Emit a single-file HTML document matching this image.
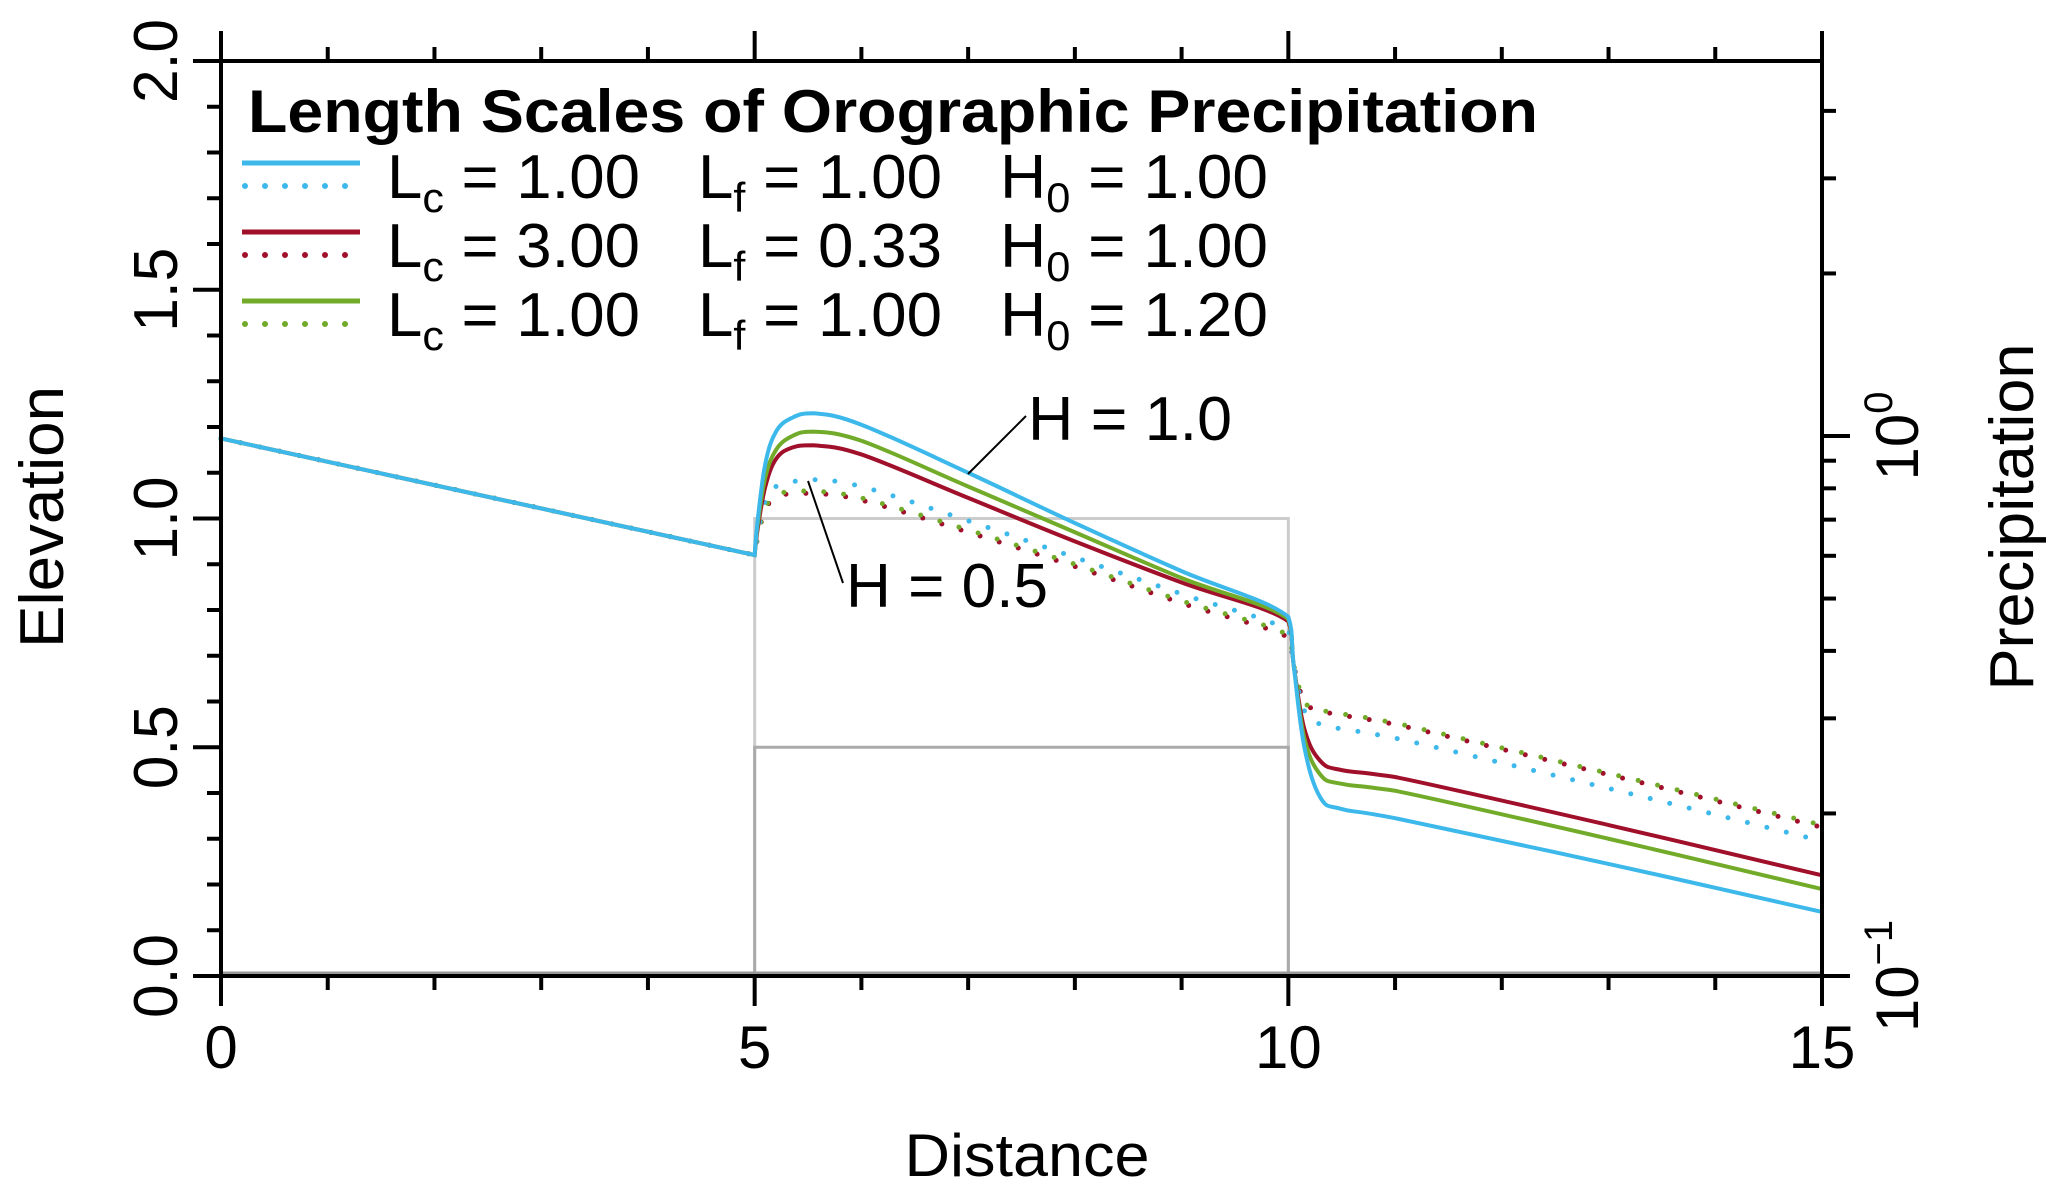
<!DOCTYPE html>
<html><head><meta charset="utf-8"><style>
html,body{margin:0;padding:0;background:#fff;}
svg{display:block;font-family:"Liberation Sans",sans-serif;}
</style></head><body>
<svg id="chart" width="2067" height="1199" viewBox="0 0 2067 1199" xmlns="http://www.w3.org/2000/svg">
<g id="terrain"></g>
<g id="series"></g>
<g id="axes"></g>
<g id="legend">
  <text x="248" y="132" font-size="60" font-weight="bold" textLength="1290" lengthAdjust="spacingAndGlyphs">Length Scales of Orographic Precipitation</text>
</g>
<g>
  <line x1="1026" y1="416" x2="968" y2="474" stroke="#000" stroke-width="2"/>
  <text x="1028" y="440" font-size="62" textLength="204" lengthAdjust="spacingAndGlyphs">H = 1.0</text>
  <line x1="843" y1="583" x2="808" y2="481" stroke="#000" stroke-width="2"/>
  <text x="846" y="607" font-size="62" textLength="202" lengthAdjust="spacingAndGlyphs">H = 0.5</text>
</g>
</svg>
<script>
const xVals=[0,5,5.03,5.1,5.2,5.35,5.55,6,7,8,9,10,10.05,10.15,10.3,10.5,11,13,15];
const blueSolid=[1.175,0.92,1.0,1.12,1.19,1.22,1.23,1.205,1.10,0.99,0.885,0.785,0.68,0.5,0.39,0.365,0.345,0.245,0.14];
const greenSolid=[1.175,0.92,0.99,1.09,1.15,1.18,1.19,1.17,1.07,0.97,0.87,0.78,0.68,0.52,0.44,0.42,0.405,0.30,0.19];
const redSolid=[1.175,0.92,0.98,1.07,1.13,1.155,1.16,1.14,1.045,0.95,0.86,0.775,0.68,0.54,0.47,0.45,0.435,0.33,0.22];
const blueDot=[1.175,0.92,0.97,1.04,1.07,1.08,1.085,1.07,0.995,0.915,0.835,0.755,0.68,0.58,0.55,0.54,0.52,0.41,0.295];
const redDot=[1.175,0.92,0.96,1.02,1.045,1.055,1.055,1.04,0.97,0.895,0.815,0.74,0.68,0.6,0.58,0.57,0.55,0.44,0.325];
const greenDot=[1.175,0.92,0.962,1.024,1.05,1.06,1.06,1.045,0.975,0.9,0.82,0.745,0.68,0.6,0.582,0.573,0.553,0.443,0.33];
const xTicks=[0,5,10,15];
const xTickLabels=["0","5","10","15"];
const yTicks=[0,0.5,1.0,1.5,2.0];
const yTickLabels=["0.0","0.5","1.0","1.5","2.0"];
const terrainX=[5,10];
const terrainH=[1.0,0.5];

const NS="http://www.w3.org/2000/svg";
const L=221,R=1822,T=61,B=976;
const sx=v=>L+(v-0)/(15-0)*(R-L);
const sy=v=>B-(v-0)/(2-0)*(B-T);
const decade=540, y10_0=436;
const syLog=p=>y10_0-Math.log10(p)*decade;
function mk(tag,attrs,parent){const e=document.createElementNS(NS,tag);for(const k in attrs)e.setAttribute(k,attrs[k]);parent.appendChild(e);return e;}
const axes=document.getElementById('axes'),series=document.getElementById('series'),terrain=document.getElementById('terrain');

const c1=terrainH.map((h,i)=>i===0?'#cccccc':'#aaaaaa');
terrainH.forEach((h,i)=>{
  const r=mk('path',{d:`M${sx(terrainX[0])},${sy(0)}V${sy(h)}H${sx(terrainX[1])}V${sy(0)}`,fill:'none',stroke:c1[i],'stroke-width':3},terrain);
  
  
});
const base=mk('line',{x1:L,y1:sy(0)-3,x2:R,y2:sy(0)-3,stroke:'#999','stroke-width':3},terrain);



function clamp(v,a,b){const lo=Math.min(a,b),hi=Math.max(a,b);return Math.max(lo,Math.min(hi,v));}
function pathD(xs,ys){
  const p=xs.map((x,i)=>[sx(x),sy(ys[i])]);
  let d=`M${p[0][0]},${p[0][1]}`;
  for(let i=0;i<p.length-1;i++){
    const p0=p[Math.max(0,i-1)],p1=p[i],p2=p[i+1],p3=p[Math.min(p.length-1,i+2)];
    const t=0.18;
    let c1x=p1[0]+(p2[0]-p0[0])*t,c1y=p1[1]+(p2[1]-p0[1])*t;
    let c2x=p2[0]-(p3[0]-p1[0])*t,c2y=p2[1]-(p3[1]-p1[1])*t;
    if(i<=1){c1x=p1[0];c1y=p1[1];}
    if(i===0){c2x=p2[0];c2y=p2[1];}
    c1y=clamp(c1y,p1[1],p2[1]);c2y=clamp(c2y,p1[1],p2[1]);
    c1x=clamp(c1x,p1[0],p2[0]);c2x=clamp(c2x,p1[0],p2[0]);
    d+=`C${c1x},${c1y} ${c2x},${c2y} ${p2[0]},${p2[1]}`;
  }
  return d;
}
const defs=[
 [redDot,'#a0102a',true,'red-dotted-h05'],
 [greenDot,'#72ab2a',true,'green-dotted-h05'],
 [blueDot,'#3db8ea',true,'blue-dotted-h05'],
 [redSolid,'#a0102a',false,'red-solid-h1'],
 [greenSolid,'#72ab2a',false,'green-solid-h1'],
 [blueSolid,'#3db8ea',false,'blue-solid-h1']];
defs.forEach(([ys,col,dot,name])=>{
  const a={d:pathD(xVals,ys),fill:'none',stroke:col,'stroke-width':dot?5:4,'stroke-linecap':'round'};
  if(dot)a['stroke-dasharray']='0 20';
  const e=mk('path',a,series);
  
  
});

const frame=mk('rect',{x:L,y:T,width:R-L,height:B-T,fill:'none',stroke:'#000','stroke-width':4},axes);


for(let v=0;v<=15;v++){
  const maj=v%5===0,len=maj?30:14;
  const b=mk('line',{x1:sx(v),y1:B,x2:sx(v),y2:B+len,stroke:'#000','stroke-width':4},axes);
  
  
  const t=mk('line',{x1:sx(v),y1:T,x2:sx(v),y2:T-len,stroke:'#000','stroke-width':4},axes);
  
  
}
xTicks.forEach((v,i)=>{
  const t=mk('text',{x:sx(v),y:1068,'font-size':60,'text-anchor':'middle'},axes);
  t.textContent=xTickLabels[i];
  
  
});
for(let k=0;k<=20;k++){
  const v=k/10,maj=k%5===0,len=maj?28:14;
  const e=mk('line',{x1:L,y1:sy(v),x2:L-len,y2:sy(v),stroke:'#000','stroke-width':4},axes);
  
  
}
yTicks.forEach((v,i)=>{
  const t=mk('text',{x:0,y:0,'font-size':62,'text-anchor':'middle',transform:`translate(177,${sy(v)}) rotate(-90)`,textLength:84,lengthAdjust:'spacingAndGlyphs'},axes);
  t.textContent=yTickLabels[i];
  
  
});
const logTicks=[0.1,0.2,0.3,0.4,0.5,0.6,0.7,0.8,0.9,1,2,3,4];
logTicks.forEach(p=>{
  const maj=(p===0.1||p===1),len=maj?28:14;
  const e=mk('line',{x1:R,y1:syLog(p),x2:R+len,y2:syLog(p),stroke:'#000','stroke-width':4},axes);
  
  
});
[[1,'0'],[0.1,'−1']].forEach(([p,ex])=>{
  const t=mk('text',{x:0,y:0,'font-size':60,'text-anchor':'middle',transform:`translate(1918,${syLog(p)}) rotate(-90)`},axes);
  
  
  t.textContent='10';
  const s=mk('tspan',{'font-size':40,dy:-26},t);
  s.textContent=ex;
});
const xt=mk('text',{x:1027,y:1176,'font-size':60,'text-anchor':'middle',textLength:245,lengthAdjust:'spacingAndGlyphs'},axes);
xt.textContent='Distance';


const yt=mk('text',{x:0,y:0,'font-size':62,'text-anchor':'middle',transform:'translate(63,517) rotate(-90)',textLength:262,lengthAdjust:'spacingAndGlyphs'},axes);
yt.textContent='Elevation';


const rt=mk('text',{x:0,y:0,'font-size':62,'text-anchor':'middle',transform:'translate(2033,517) rotate(-90)',textLength:347,lengthAdjust:'spacingAndGlyphs'},axes);
rt.textContent='Precipitation';



const leg=document.getElementById('legend');
const legColors=['#3db8ea','#a0102a','#72ab2a'];
const legLc=['1.00','3.00','1.00'],legLf=['1.00','0.33','1.00'],legH0=['1.00','1.00','1.20'];
const rowY=[163,232,301];
legColors.forEach((col,i)=>{
  const y=rowY[i];
  const s=mk('line',{x1:242,y1:y,x2:360,y2:y,stroke:col,'stroke-width':5},leg);
  
  
  const d=mk('line',{x1:245,y1:y+23,x2:360,y2:y+23,stroke:col,'stroke-width':6,'stroke-linecap':'round','stroke-dasharray':'0 20'},leg);
  
  
  const parts=[[387,'L','c',' = '+legLc[i],253],[698,'L','f',' = '+legLf[i],244],[1000,'H','0',' = '+legH0[i],268]];
  parts.forEach(([x,a,sub,rest,w])=>{
    const t=mk('text',{x:x,y:y+35,'font-size':62,textLength:w,lengthAdjust:'spacingAndGlyphs'},leg);
    
    
    const t1=mk('tspan',{},t);t1.textContent=a;
    const t2=mk('tspan',{'font-size':42,dy:14},t);t2.textContent=sub;
    const t3=mk('tspan',{dy:-14},t);t3.textContent=rest;
  });
});
</script>
</body></html>
